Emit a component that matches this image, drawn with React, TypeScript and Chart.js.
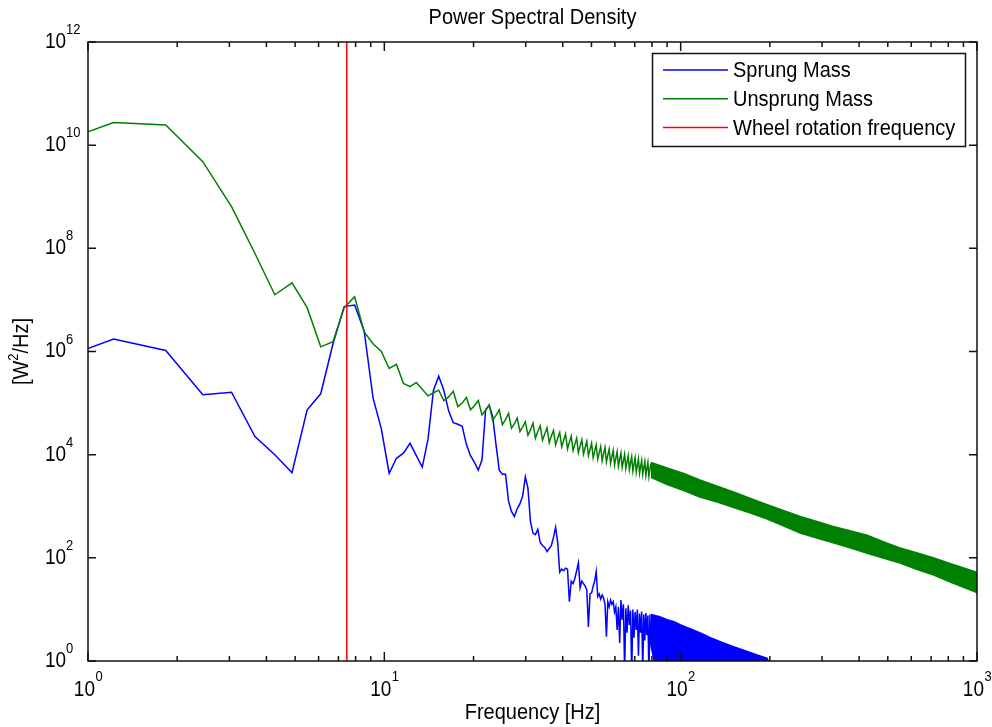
import React, { useEffect, useRef } from "react";
import { Chart, registerables } from "chart.js";

Chart.register(...registerables);

const CHART_TITLE = "Power Spectral Density";
const X_TITLE = "Frequency [Hz]";
const Y_TITLE_PARTS = ["[W", "2", "/Hz]"];
const SERIES_NAMES = ["Sprung Mass", "Unsprung Mass", "Wheel rotation frequency"];
const SERIES_COLORS = ["#0000ff", "#008000", "#ff0000"];
const X_TICK_EXPONENTS = [0, 1, 2, 3];
const Y_TICK_EXPONENTS = [0, 2, 4, 6, 8, 10, 12];
const WHEEL_FREQ_HZ = 7.47;

// FFT bins (Hz)
const FREQ_HZ = [
  0.61, 1.22, 1.83, 2.44, 3.05, 3.66, 4.27, 4.88, 5.49, 6.1,
  6.71, 7.32, 7.94, 8.55, 9.16, 9.77, 10.38, 10.99, 11.6, 12.21,
  12.82, 13.43, 14.04, 14.65, 15.26, 15.87, 16.48, 17.09, 17.7, 18.31,
  18.92, 19.53, 20.14, 20.75, 21.36, 21.97, 22.58, 23.2, 23.81, 24.42,
  25.03, 25.64, 26.25, 26.86, 27.47, 28.08, 28.69, 29.3, 29.91, 30.52,
  31.13, 31.74, 32.35, 32.96, 33.57, 34.18, 34.79, 35.4, 36.01, 36.62,
  37.23, 37.84, 38.46, 39.07, 39.68, 40.29, 40.9, 41.51, 42.12, 42.73,
  43.34, 43.95, 44.56, 45.17, 45.78, 46.39, 47.0, 47.61, 48.22, 48.83,
  49.44, 50.05, 50.66, 51.27, 51.88, 52.49, 53.1, 53.72, 54.33, 54.94,
  55.55, 56.16, 56.77, 57.38, 57.99, 58.6, 59.21, 59.82, 60.43, 61.04,
  61.65, 62.26, 62.87, 63.48, 64.09, 64.7, 65.31, 65.92, 66.53, 67.14,
  67.75, 68.36, 68.97, 69.58, 70.2, 70.81, 71.42, 72.03, 72.64, 73.25,
  73.86, 74.47, 75.08, 75.69, 76.3, 76.91, 77.52, 78.13, 78.74, 79.35,
];

// PSD exponents (log10 of W^2/Hz)
const SPRUNG_LOG10 = [
  5.61, 6.24, 6.02, 5.16, 5.21, 4.35, 4.0, 3.65, 4.87, 5.18,
  6.15, 6.87, 6.9, 6.4, 5.1, 4.5, 3.64, 3.93, 4.03, 4.22,
  3.98, 3.76, 4.3, 5.25, 5.52, 5.25, 4.85, 4.62, 4.59, 4.55,
  4.2, 3.98, 3.85, 3.7, 3.9, 4.87, 4.96, 4.74, 4.2, 3.7,
  3.62, 3.62, 3.1, 2.9, 2.8, 2.95, 3.05, 3.2, 3.57, 3.35,
  2.7, 2.48, 2.45, 2.55, 2.3, 2.24, 2.2, 2.12, 2.18, 2.24,
  2.4, 2.59, 2.3, 1.72, 1.78, 1.75, 1.8, 1.78, 1.15, 1.55,
  1.5, 1.6, 1.75, 1.9, 1.42, 1.55, 1.5, 1.45, 1.38, 0.66,
  1.3, 1.32, 1.45, 1.55, 1.73, 1.25, 1.3, 1.2, 1.28, 1.22,
  1.1, 0.47, 1.15, 1.05, 1.18, 1.1, 1.15, 0.95, 1.05, 0.6,
  1.05, 0.35, 1.18, 0.8, 1.1, -0.2, 1.02, 0.55, 1.08, 0.7,
  0.98, -0.3, 1.0, 0.45, 0.95, 0.6, 1.0, 0.1, 0.92, 0.55,
  0.96, -0.2, 0.9, 0.4, 0.93, 0.5, 0.88, -0.3, 0.9, 0.3,
];

const UNSPRUNG_LOG10 = [
  9.81, 10.44, 10.39, 9.68, 8.81, 7.9, 7.1, 7.33, 6.85, 6.09,
  6.19, 6.85, 7.06, 6.38, 6.15, 6.0, 5.67, 5.75, 5.38, 5.32,
  5.4, 5.27, 5.14, 5.2, 5.25, 5.05, 5.12, 5.23, 4.93, 5.0,
  5.11, 4.87, 4.95, 5.05, 4.77, 4.86, 4.96, 4.67, 4.76, 4.87,
  4.58, 4.68, 4.8, 4.51, 4.6, 4.71, 4.45, 4.54, 4.64, 4.38,
  4.48, 4.61, 4.32, 4.45, 4.56, 4.28, 4.4, 4.52, 4.23, 4.36,
  4.47, 4.19, 4.32, 4.43, 4.15, 4.28, 4.4, 4.11, 4.24, 4.36,
  4.08, 4.2, 4.32, 4.04, 4.17, 4.29, 4.01, 4.14, 4.26, 3.98,
  4.1, 4.22, 3.94, 4.07, 4.19, 3.91, 4.04, 4.16, 3.88, 4.02,
  4.14, 3.86, 3.99, 4.11, 3.83, 3.96, 4.08, 3.8, 3.93, 4.06,
  3.78, 3.91, 4.03, 3.75, 3.88, 4.01, 3.73, 3.86, 3.98, 3.71,
  3.84, 3.96, 3.68, 3.81, 3.94, 3.66, 3.79, 3.92, 3.64, 3.77,
  3.89, 3.62, 3.75, 3.87, 3.6, 3.73, 3.85, 3.58, 3.71, 3.83,
];

// Dense high-frequency part: envelope of the oscillation band
const SPRUNG_BAND_HZ = [79.35, 85, 90, 95, 100, 108, 116, 126, 138, 150, 165, 180, 196, 205];
const SPRUNG_BAND_UPPER_LOG10 = [0.9, 0.86, 0.8, 0.76, 0.7, 0.62, 0.55, 0.45, 0.36, 0.28, 0.2, 0.12, 0.05, -0.3];
const SPRUNG_BAND_LOWER_LOG10 = [0.3, -0.5, -0.5, -0.5, -0.5, -0.5, -0.5, -0.5, -0.5, -0.5, -0.5, -0.5, -0.5, -0.5];

const UNSPRUNG_BAND_HZ = [79.35, 90, 103, 116, 133, 150, 172, 196, 222, 253, 290, 327, 375, 426, 485, 550, 625, 711, 820, 985, 1000];
const UNSPRUNG_BAND_UPPER_LOG10 = [3.85, 3.74, 3.63, 3.51, 3.39, 3.28, 3.15, 3.03, 2.92, 2.8, 2.7, 2.61, 2.52, 2.44, 2.31, 2.19, 2.1, 2.0, 1.88, 1.73, 1.71];
const UNSPRUNG_BAND_LOWER_LOG10 = [3.56, 3.42, 3.3, 3.18, 3.08, 2.98, 2.87, 2.75, 2.62, 2.48, 2.38, 2.29, 2.19, 2.09, 1.99, 1.9, 1.78, 1.67, 1.52, 1.34, 1.32];

const FONT = '"Liberation Sans", Arial, Helvetica, sans-serif';
const TEXT_STRETCH = 1.12;

const toPoints = (xs: number[], logs: number[]) =>
  xs.map((x, i) => ({ x, y: Math.pow(10, logs[i]) }));

function drawText(
  ctx: CanvasRenderingContext2D,
  text: string,
  x: number,
  y: number,
  size: number,
  align: CanvasTextAlign,
  baseline: CanvasTextBaseline
) {
  ctx.save();
  ctx.font = `${size}px ${FONT}`;
  ctx.textAlign = align;
  ctx.textBaseline = baseline;
  ctx.translate(x, y);
  ctx.scale(1, TEXT_STRETCH);
  ctx.fillText(text, 0, 0);
  ctx.restore();
}

function textWidth(ctx: CanvasRenderingContext2D, text: string, size: number) {
  ctx.save();
  ctx.font = `${size}px ${FONT}`;
  const w = ctx.measureText(text).width;
  ctx.restore();
  return w;
}

const BASE_SIZE = 19;
const EXP_SIZE = 13;

const decorPlugin = {
  id: "matlabDecor",
  afterDraw(chart: any) {
    const ctx: CanvasRenderingContext2D = chart.ctx;
    const a = chart.chartArea;
    const xs = chart.scales.x;
    const ys = chart.scales.y;
    ctx.save();
    ctx.fillStyle = "#000";
    ctx.strokeStyle = "#111";
    ctx.lineWidth = 1.5;

    // axes box
    ctx.strokeRect(a.left, a.top, a.right - a.left, a.bottom - a.top);

    // x ticks (inside, top and bottom)
    ctx.beginPath();
    for (let e = 0; e <= 3; e++) {
      for (let m = 1; m <= 9; m++) {
        const v = m * Math.pow(10, e);
        if (v > 1000) break;
        const px = xs.getPixelForValue(v);
        const len = m === 1 ? 9 : 5;
        ctx.moveTo(px, a.bottom);
        ctx.lineTo(px, a.bottom - len);
        ctx.moveTo(px, a.top);
        ctx.lineTo(px, a.top + len);
      }
    }
    // y ticks
    Y_TICK_EXPONENTS.forEach((e) => {
      const py = ys.getPixelForValue(Math.pow(10, e));
      ctx.moveTo(a.left, py);
      ctx.lineTo(a.left + 8, py);
      ctx.moveTo(a.right, py);
      ctx.lineTo(a.right - 8, py);
    });
    ctx.stroke();

    // x tick labels
    X_TICK_EXPONENTS.forEach((e) => {
      const px = xs.getPixelForValue(Math.pow(10, e));
      const w1 = textWidth(ctx, "10", BASE_SIZE);
      const w2 = textWidth(ctx, String(e), EXP_SIZE);
      const left = px - (w1 + w2) / 2;
      drawText(ctx, "10", left, a.bottom + 29, BASE_SIZE, "left", "middle");
      drawText(ctx, String(e), left + w1 + 0.5, a.bottom + 16, EXP_SIZE, "left", "middle");
    });

    // y tick labels
    Y_TICK_EXPONENTS.forEach((e) => {
      const py = ys.getPixelForValue(Math.pow(10, e));
      drawText(ctx, "10", 45, py, BASE_SIZE, "left", "middle");
      drawText(ctx, String(e), 66, py - 12, EXP_SIZE, "left", "middle");
    });

    // title
    drawText(ctx, CHART_TITLE, (a.left + a.right) / 2, 18, 20, "center", "middle");
    // x axis title
    drawText(ctx, X_TITLE, (a.left + a.right) / 2, 713, 20, "center", "middle");
    // y axis title (rotated)
    ctx.save();
    ctx.translate(22, (a.top + a.bottom) / 2);
    ctx.rotate(-Math.PI / 2);
    const wA = textWidth(ctx, Y_TITLE_PARTS[0], 20);
    const wB = textWidth(ctx, Y_TITLE_PARTS[1], 13);
    const wC = textWidth(ctx, Y_TITLE_PARTS[2], 20);
    const sx = -(wA + wB + wC) / 2;
    drawText(ctx, Y_TITLE_PARTS[0], sx, 0, 20, "left", "middle");
    drawText(ctx, Y_TITLE_PARTS[1], sx + wA, -8, 13, "left", "middle");
    drawText(ctx, Y_TITLE_PARTS[2], sx + wA + wB, 0, 20, "left", "middle");
    ctx.restore();

    // legend
    const lx = 652.5, ly = 53.5, lw = 313, lh = 93;
    ctx.fillStyle = "#fff";
    ctx.fillRect(lx, ly, lw, lh);
    ctx.lineWidth = 1.5;
    ctx.strokeStyle = "#111";
    ctx.strokeRect(lx, ly, lw, lh);
    SERIES_NAMES.forEach((name, i) => {
      const y = 70 + i * 28.8;
      ctx.strokeStyle = SERIES_COLORS[i];
      ctx.lineWidth = 1.5;
      ctx.beginPath();
      ctx.moveTo(663, y);
      ctx.lineTo(728, y);
      ctx.stroke();
      ctx.fillStyle = "#000";
      drawText(ctx, name, 733, y + 1, 20, "left", "middle");
    });
    ctx.restore();
  },
};

export default function App() {
  const canvasRef = useRef<HTMLCanvasElement | null>(null);

  useEffect(() => {
    if (!canvasRef.current) return;
    const chart = new Chart(canvasRef.current, {
      type: "line",
      data: {
        datasets: [
          {
            label: SERIES_NAMES[2],
            data: [
              { x: WHEEL_FREQ_HZ, y: 1 },
              { x: WHEEL_FREQ_HZ, y: 1e12 },
            ],
            borderColor: SERIES_COLORS[2],
            borderWidth: 1.5,
            pointRadius: 0,
            fill: false,
            order: 0,
          },
          {
            label: SERIES_NAMES[1],
            data: toPoints(FREQ_HZ, UNSPRUNG_LOG10),
            borderColor: SERIES_COLORS[1],
            borderWidth: 1.5,
            pointRadius: 0,
            fill: false,
            order: 1,
          },
          {
            label: "unsprung-band-upper",
            data: toPoints(UNSPRUNG_BAND_HZ, UNSPRUNG_BAND_UPPER_LOG10),
            borderColor: SERIES_COLORS[1],
            borderWidth: 1.5,
            pointRadius: 0,
            fill: false,
            order: 2,
          },
          {
            label: "unsprung-band-lower",
            data: toPoints(UNSPRUNG_BAND_HZ, UNSPRUNG_BAND_LOWER_LOG10),
            borderColor: SERIES_COLORS[1],
            backgroundColor: SERIES_COLORS[1],
            borderWidth: 1.5,
            pointRadius: 0,
            fill: 2,
            order: 2,
          },
          {
            label: SERIES_NAMES[0],
            data: toPoints(FREQ_HZ, SPRUNG_LOG10),
            borderColor: SERIES_COLORS[0],
            borderWidth: 1.5,
            pointRadius: 0,
            fill: false,
            order: 3,
          },
          {
            label: "sprung-band-upper",
            data: toPoints(SPRUNG_BAND_HZ, SPRUNG_BAND_UPPER_LOG10),
            borderColor: SERIES_COLORS[0],
            borderWidth: 1.5,
            pointRadius: 0,
            fill: false,
            order: 4,
          },
          {
            label: "sprung-band-lower",
            data: toPoints(SPRUNG_BAND_HZ, SPRUNG_BAND_LOWER_LOG10),
            borderColor: SERIES_COLORS[0],
            backgroundColor: SERIES_COLORS[0],
            borderWidth: 1.5,
            pointRadius: 0,
            fill: 5,
            order: 4,
          },
        ],
      },
      options: {
        animation: false,
        responsive: true,
        maintainAspectRatio: false,
        layout: { padding: { left: 88, right: 15, top: 42, bottom: 66 } },
        scales: {
          x: { type: "logarithmic", min: 1, max: 1000, display: false },
          y: { type: "logarithmic", min: 1, max: 1e12, display: false },
        },
        plugins: {
          legend: { display: false },
          title: { display: false },
          tooltip: { enabled: false },
          filler: { propagate: false },
        },
        elements: { line: { tension: 0 } },
      },
      plugins: [decorPlugin],
    });
    return () => chart.destroy();
  }, []);

  return (
    <div style={{ position: "absolute", left: 0, top: 0, width: 992, height: 727, background: "#fff" }}>
      <canvas ref={canvasRef} />
    </div>
  );
}
